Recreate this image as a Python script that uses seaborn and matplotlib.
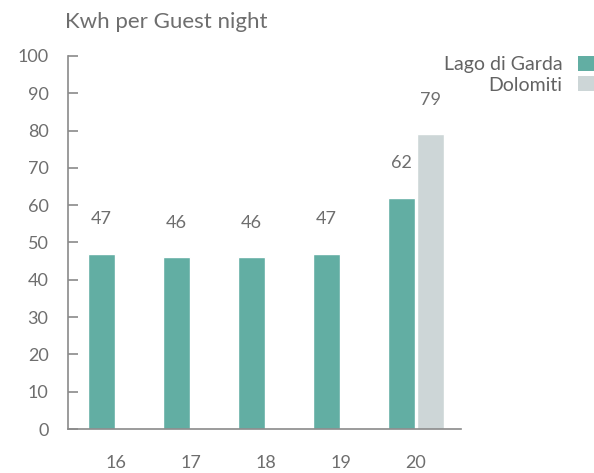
import pandas as pd
import matplotlib.pyplot as plt
import seaborn as sns
from matplotlib.patches import Patch


years = ['16', '17', '18', '19', '20']
garda = [47, 46, 46, 47, 62]
dolomiti_years = ['20']
dolomiti = [79]
areas = ['Lago di Garda', 'Dolomiti']
colors = ['#62aea3', '#cdd6d7']

data = pd.DataFrame({
    'year': years + dolomiti_years,
    'kwh': garda + dolomiti,
    'area': [areas[0]] * len(garda) + [areas[1]] * len(dolomiti),
})

sns.set_style('white')
plt.rcParams['font.family'] = ['Lato', 'DejaVu Sans']
text_col = '#6e6e6e'
axis_col = '#8a8a8a'

fig = plt.figure(figsize=(5.94, 4.73), dpi=100)
ax = fig.add_axes([68 / 594, 44 / 473, 393 / 594, 373 / 473])

sns.barplot(data=data, x='year', y='kwh', hue='area', order=years, hue_order=areas,
            palette=colors, saturation=1, width=0.77, gap=0.07, legend=False, ax=ax)

# value labels above the bars
for cont in ax.containers:
    ax.bar_label(cont, fmt='%.0f', padding=19, fontsize=13, color=text_col)

ax.set_ylim(0, 100)
ax.set_yticks(range(0, 101, 10))
ax.set_xlim(-0.64, 4.6)
ax.set_xlabel('')
ax.set_ylabel('')
ax.tick_params(axis='y', direction='in', length=7.2, width=1.2, color=axis_col,
               pad=14, labelsize=13, labelcolor=text_col, left=True)
ax.tick_params(axis='x', length=0, pad=19, labelsize=13, labelcolor=text_col)
for s in ['top', 'right']:
    ax.spines[s].set_visible(False)
for s in ['left', 'bottom']:
    ax.spines[s].set_color(axis_col)
    ax.spines[s].set_linewidth(1.2)

fig.text(65 / 594, 1 - 22 / 473, 'Kwh per Guest night', fontsize=16,
         color=text_col, ha='left', va='center')

handles = [Patch(facecolor=c, edgecolor='none') for c in colors]
fig.legend(handles, areas, loc='upper right', bbox_to_anchor=(1.0, 1 - 56 / 473),
           markerfirst=False, frameon=False, fontsize=14, labelcolor='#636363',
           handlelength=0.82, handleheight=0.82, handletextpad=0.8,
           labelspacing=0.15, borderpad=0, borderaxespad=0)

fig.savefig('out.png', dpi=100)
